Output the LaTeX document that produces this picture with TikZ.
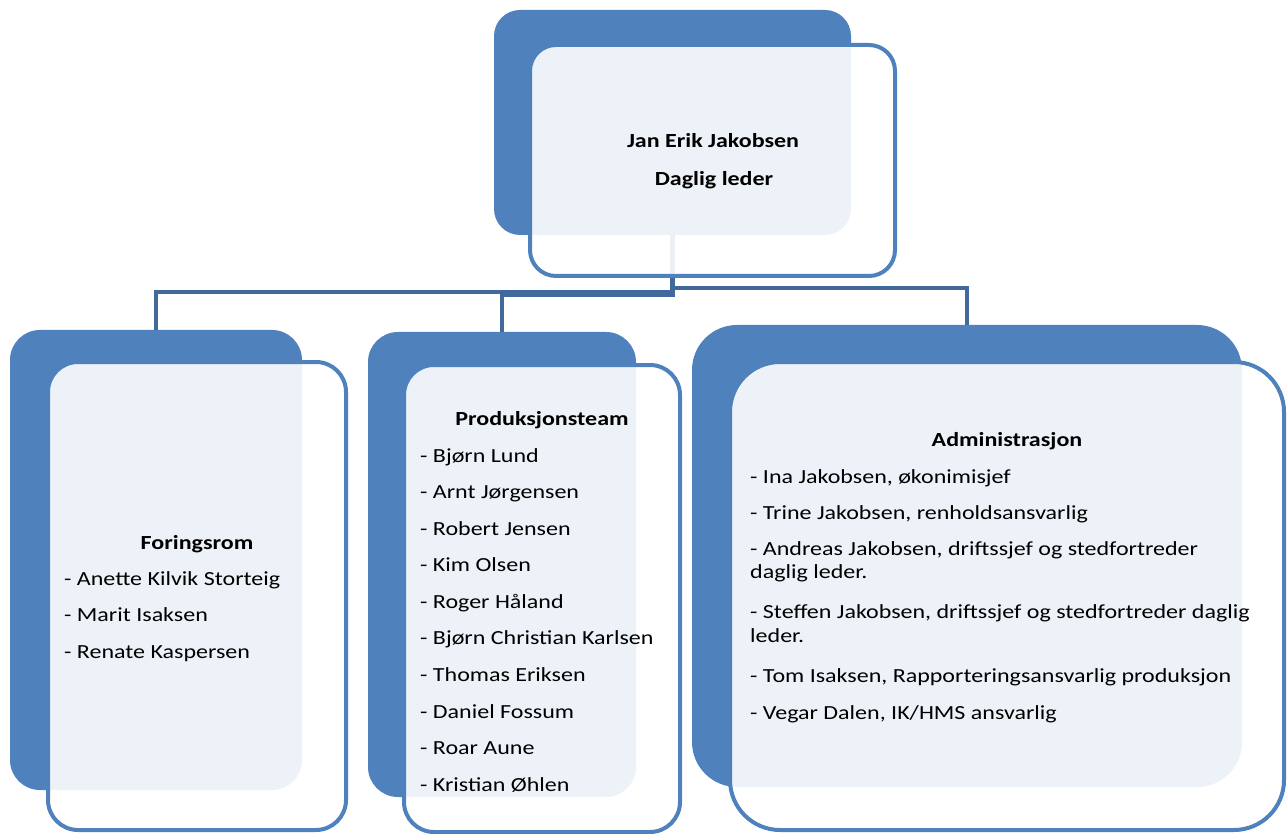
\documentclass[tikz,border=0pt]{standalone}
\usepackage{fontspec}
\setmainfont{Carlito}[FakeStretch=1.2]
\definecolor{boxblue}{HTML}{4F81BD}
\definecolor{linkblue}{HTML}{41699C}
\begin{document}
\begin{tikzpicture}[x=1pt,y=-1pt,
  backbox/.style={rectangle, fill=boxblue, draw=none, inner sep=0pt, rounded corners=26pt},
  frontbox/.style={rectangle, fill=white, fill opacity=0.9, draw=boxblue, draw opacity=1, line width=4pt, inner sep=0pt, rounded corners=26pt},
  link/.style={draw=linkblue, line width=4.5pt},
  txt/.style={inner sep=0pt, font=\fontsize{20}{24}\selectfont, text=black},
  ttl/.style={txt, font=\fontsize{20}{24}\selectfont\bfseries, anchor=base},
  item/.style={txt, anchor=base west}]
\useasboundingbox (0,0) rectangle (1288,834);
% back boxes
\node[backbox, minimum width=357pt, minimum height=225pt] (tb) at (672.5,122.5) {};
\node[backbox, minimum width=292pt, minimum height=460pt, rounded corners=30pt] (lb) at (156,560) {};
\node[backbox, minimum width=268pt, minimum height=465pt, rounded corners=30pt] (mb) at (502,564.5) {};
\node[backbox, minimum width=550pt, minimum height=462pt, rounded corners=45pt] (rb) at (967,556) {};
% connectors
\draw[link] (tb.south) -- ++(0,57) -| (lb.north);
\draw[link] (tb.south) -- ++(0,60) -| (mb.north);
\draw[link] (tb.south) -- ++(0,53) -| (rb.north);
% front boxes
\node[frontbox, minimum width=365pt, minimum height=231pt] (tf) at (712.5,160.5) {};
\node[frontbox, minimum width=298pt, minimum height=468pt, rounded corners=30pt] (lf) at (197,596) {};
\node[frontbox, minimum width=276pt, minimum height=467pt, rounded corners=30pt] (mf) at (542,598.5) {};
\node[frontbox, minimum width=554pt, minimum height=468pt, rounded corners=50pt] (rf) at (1007,596) {};
% top text
\node[ttl] (t1) at (713,148) {Jan Erik Jakobsen};
\node[ttl] (t2) at (714,186) {Daglig leder};
% left
\node[ttl] (lt) at (197,549) {Foringsrom};
\node[item] (l1) at (64,585) {- Anette Kilvik Storteig};
\node[item] (l2) at (64,621) {- Marit Isaksen};
\node[item] (l3) at (64,658) {- Renate Kaspersen};
% middle
\node[ttl] (mt) at (542,425) {Produksjonsteam};
\node[item] (m1) at (420,462) {- Bjørn Lund};
\node[item] (m2) at (420,498) {- Arnt Jørgensen};
\node[item] (m3) at (420,535) {- Robert Jensen};
\node[item] (m4) at (420,571) {- Kim Olsen};
\node[item] (m5) at (420,608) {- Roger Håland};
\node[item] (m6) at (420,644) {- Bjørn Christian Karlsen};
\node[item] (m7) at (420,681) {- Thomas Eriksen};
\node[item] (m8) at (420,718) {- Daniel Fossum};
\node[item] (m9) at (420,754) {- Roar Aune};
\node[item] (m10) at (420,791) {- Kristian Øhlen};
% right
\node[ttl] (rt) at (1007,446) {Administrasjon};
\node[item] (r1) at (750,483) {- Ina Jakobsen, økonimisjef};
\node[item] (r2) at (750,519) {- Trine Jakobsen, renholdsansvarlig};
\node[item] (r3) at (750,555) {- Andreas Jakobsen, driftssjef og stedfortreder};
\node[item] (r3b) at (750,578) {daglig leder.};
\node[item] (r4) at (750,618) {- Steffen Jakobsen, driftssjef og stedfortreder daglig};
\node[item] (r4b) at (750,642) {leder.};
\node[item] (r5) at (750,682) {- Tom Isaksen, Rapporteringsansvarlig produksjon};
\node[item] (r6) at (750,719) {- Vegar Dalen, IK/HMS ansvarlig};
\end{tikzpicture}
\end{document}
